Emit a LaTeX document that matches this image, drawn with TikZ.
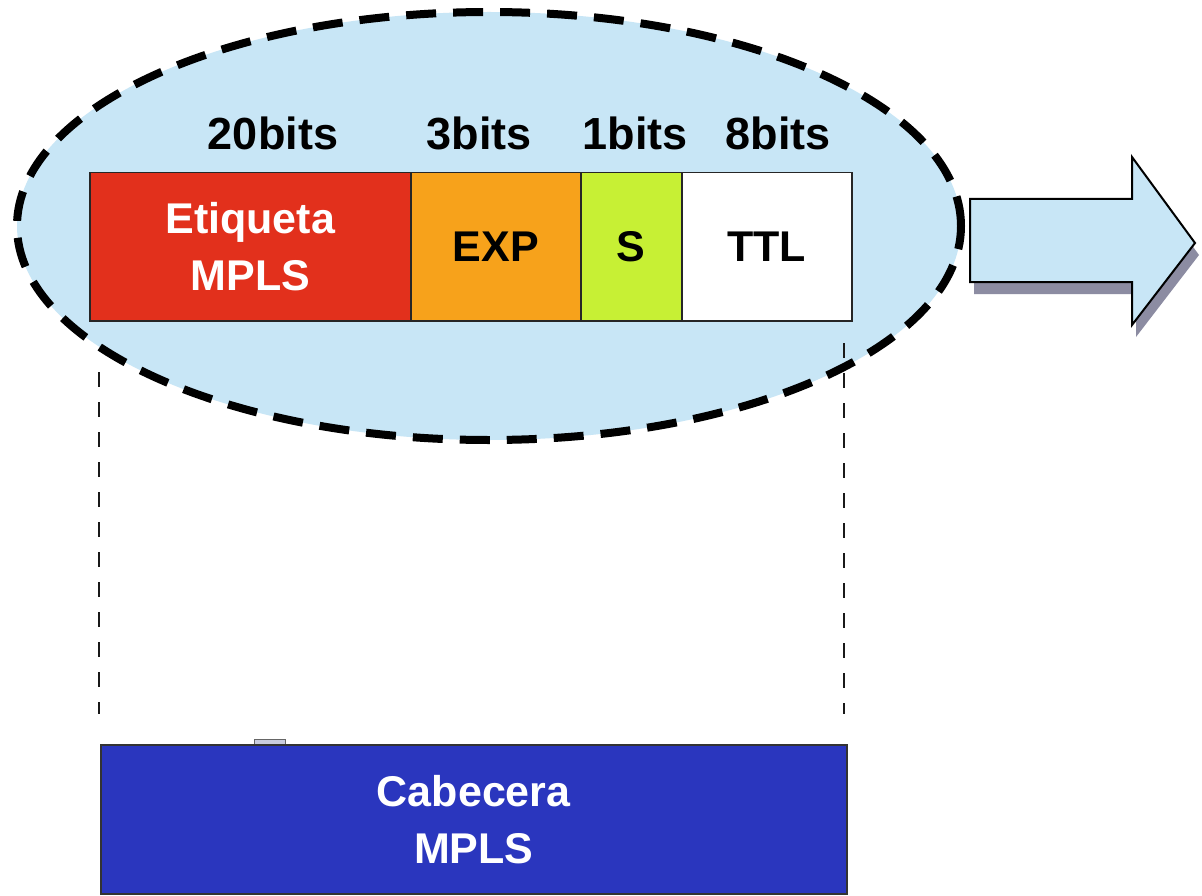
\documentclass[tikz,border=0pt]{standalone}
\usepackage{fontspec}
\setmainfont{Liberation Sans}
\definecolor{ovalblue}{RGB}{200,230,246}
\definecolor{labelred}{RGB}{226,48,28}
\definecolor{exporange}{RGB}{247,162,27}
\definecolor{sgreen}{RGB}{199,240,52}
\definecolor{hdrblue}{RGB}{42,54,190}
\definecolor{shadowgrey}{RGB}{140,140,162}
\definecolor{tabgrey}{RGB}{200,204,222}
\begin{document}
\begin{tikzpicture}[x=1pt,y=-1pt,
  field/.style={draw=black!85, line width=1.5pt, inner sep=0pt, anchor=north west,
    minimum height=148pt, align=center,
    font=\fontsize{43}{57}\selectfont\bfseries},
  bitlabel/.style={anchor=base, inner sep=0pt, font=\fontsize{45}{54}\selectfont\bfseries},
  guide/.style={line width=2.8pt, dash pattern=on 15pt off 15pt, black!90}]

\useasboundingbox (0,0) rectangle (1202,896);
\fill[white] (0,0) rectangle (1202,896);

% dashed oval around the label fields
\draw[fill=ovalblue, line width=8pt, dash pattern=on 30pt off 17pt]
  (489,226) ellipse [x radius=472pt, y radius=214pt];

% the four fields of the MPLS header
\node[field, fill=labelred, text=white, minimum width=321pt] (etq) at (89,172) {Etiqueta\\MPLS};
\node[field, fill=exporange, minimum width=170pt] (exp) at (410,172) {EXP};
\node[field, fill=sgreen, minimum width=101pt] (s) at (580,172) {S};
\node[field, fill=white, minimum width=170pt] (ttl) at (681,172) {TTL};

% field sizes
\node[bitlabel] (b20) at (273,150) {20bits};
\node[bitlabel] (b3) at (479,150) {3bits};
\node[bitlabel] (b1) at (635,150) {1bits};
\node[bitlabel] (b8) at (778,150) {8bits};

% arrow with its drop shadow
\fill[shadowgrey] (974,211) -- (1136,211) -- (1136,169) -- (1199,255) -- (1136,337) -- (1136,294) -- (974,294) -- cycle;
\draw[fill=ovalblue, line width=2pt, line join=miter]
  (970,199) -- (1132,199) -- (1132,157) -- (1195,243) -- (1132,325) -- (1132,282) -- (970,282) -- cycle;

% small tab and the whole header below
\draw[fill=tabgrey, line width=0.8pt, draw=black!60] (254,739) rectangle (285,745);
\node[field, fill=hdrblue, text=white, minimum width=746pt, minimum height=149pt,
  draw=black!80] (hdr) at (100,744) {Cabecera\\MPLS};

% guide lines from the oval down to the header
\coordinate (gl1) at (99,372);
\coordinate (gl2) at (99,714);
\coordinate (gr1) at (844,343);
\coordinate (gr2) at (844,714);
\draw[guide] (gl1) -- (gl2);
\draw[guide] (gr1) -- (gr2);
\end{tikzpicture}
\end{document}
